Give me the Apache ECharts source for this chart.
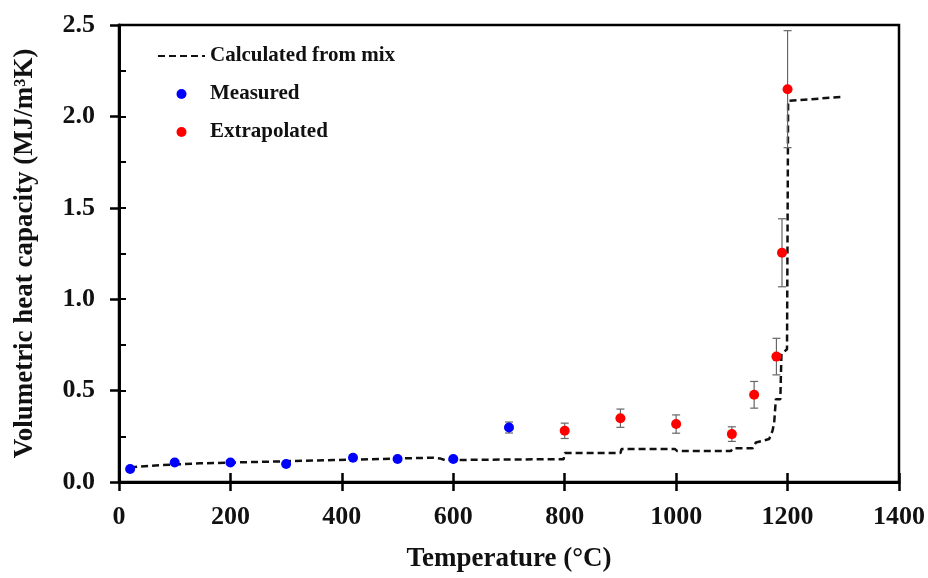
<!DOCTYPE html>
<html>
<head>
<meta charset="utf-8">
<script src="https://cdn.jsdelivr.net/npm/echarts@6/dist/echarts.min.js"></script>
<style>
html,body{margin:0;padding:0;background:#fff;}
#chart{width:928px;height:578px;}
</style>
</head>
<body>
<div id="chart"></div>
<script>
// ---- data ----
const mixT = [20,56,145,265,385,564,576,585,700,798,800,900,902,998,1002,1098,1102,1137,1143,1167,1173,1176,1179,1187,1189,1199,1201,1300];
const mixC = [0.08,0.089,0.102,0.111,0.12,0.133,0.129,0.12,0.123,0.125,0.158,0.158,0.18,0.18,0.169,0.169,0.184,0.184,0.216,0.235,0.28,0.326,0.453,0.453,0.70,0.726,2.085,2.107];

const measuredT = [20,100,200,300,420,500,600,700];
const measuredC = [0.071,0.107,0.107,0.098,0.133,0.126,0.126,0.298];
const measuredErr = [0,0,0,0,0,0,0,0.03];

const extrapT = [800,900,1000,1100,1140,1180,1190,1200];
const extrapC = [0.28,0.349,0.317,0.262,0.477,0.686,1.254,2.149];
const extrapErr = [0.042,0.05,0.05,0.04,0.073,0.1,0.186,0.32];

const xTicks = [0,200,400,600,800,1000,1200,1400];
const yTicks = [0.0,0.5,1.0,1.5,2.0,2.5];

const seriesNames = ['Calculated from mix','Measured','Extrapolated'];

// ---- build ----
const FONT = '"Liberation Serif", "DejaVu Serif", serif';
const mixData = mixT.map((t,i)=>[t,mixC[i]]);
const measData = measuredT.map((t,i)=>[t,measuredC[i]]);
const extData = extrapT.map((t,i)=>[t,extrapC[i]]);
const errData = [];
measuredT.forEach((t,i)=>{ if(measuredErr[i]>0) errData.push([t,measuredC[i],measuredErr[i]]); });
extrapT.forEach((t,i)=>{ if(extrapErr[i]>0) errData.push([t,extrapC[i],extrapErr[i]]); });

function renderErr(params, api){
  const x = api.value(0), y = api.value(1), e = api.value(2);
  const top = api.coord([x, y+e]);
  const bot = api.coord([x, y-e]);
  const hw = 4;
  const style = {stroke:'#666', lineWidth:1.2};
  return {type:'group', children:[
    {type:'line', shape:{x1:top[0],y1:top[1],x2:bot[0],y2:bot[1]}, style},
    {type:'line', shape:{x1:top[0]-hw,y1:top[1],x2:top[0]+hw,y2:top[1]}, style},
    {type:'line', shape:{x1:bot[0]-hw,y1:bot[1],x2:bot[0]+hw,y2:bot[1]}, style}
  ]};
}

const chart = echarts.init(document.getElementById('chart'), null, {renderer:'canvas'});
chart.setOption({
  animation:false,
  backgroundColor:'#fff',
  grid:{left:119,right:29,top:25,bottom:95,show:true,borderColor:'#000',borderWidth:2.5,containLabel:false},
  legend:{
    orient:'vertical', left:152, top:40,
    itemWidth:47, itemHeight:10, itemGap:16, itemTextGap:10,
    data:[
      {name:seriesNames[0], itemStyle:{color:'rgba(0,0,0,0)', borderWidth:0}},
      {name:seriesNames[1], icon:'circle'},
      {name:seriesNames[2], icon:'circle'}
    ],
    textStyle:{fontFamily:FONT, fontWeight:'bold', fontSize:21, color:'#111', lineHeight:22}
  },
  xAxis:[{
    type:'value', min:xTicks[0], max:xTicks[xTicks.length-1], interval:200,
    name:'Temperature (°C)', nameLocation:'middle', nameGap:64,
    nameTextStyle:{fontFamily:FONT, fontWeight:'bold', fontSize:27, color:'#111'},
    axisLine:{show:true, lineStyle:{color:'#000', width:3}},
    axisTick:{show:true, inside:false, length:9, lineStyle:{color:'#000', width:2.5}},
    axisLabel:{fontFamily:FONT, fontWeight:'bold', fontSize:26, color:'#111', margin:22,
      formatter:v=>String(v)},
    splitLine:{show:false}
  },{
    type:'value', min:xTicks[0], max:xTicks[xTicks.length-1], interval:200, position:'bottom',
    axisLine:{show:false},
    axisTick:{show:true, inside:true, length:9, lineStyle:{color:'#000', width:2.5}},
    axisLabel:{show:false}, splitLine:{show:false}
  }],
  yAxis:[{
    type:'value', min:yTicks[0], max:yTicks[yTicks.length-1], interval:0.5,
    name:'Volumetric heat capacity (MJ/m³K)', nameLocation:'middle', nameGap:80, nameRotate:90,
    nameTextStyle:{fontFamily:FONT, fontWeight:'bold', fontSize:27, color:'#111'},
    axisLine:{show:true, lineStyle:{color:'#000', width:3}},
    axisTick:{show:true, inside:false, length:9, lineStyle:{color:'#000', width:2.5}},
    axisLabel:{fontFamily:FONT, fontWeight:'bold', fontSize:26, color:'#111', margin:24,
      formatter:v=>v.toFixed(1)},
    splitLine:{show:false}
  },{
    type:'value', min:yTicks[0], max:yTicks[yTicks.length-1], interval:0.25, position:'left',
    axisLine:{show:false},
    axisTick:{show:true, inside:true, length:7, lineStyle:{color:'#000', width:2}},
    axisLabel:{show:false}, splitLine:{show:false}
  }],
  series:[
    {name:seriesNames[0], type:'line', data:mixData, symbol:'none', showSymbol:false,
     lineStyle:{color:'#111', width:2.5, type:[7,4]}, itemStyle:{color:'#111'}, z:3},
    {name:'err', type:'custom', renderItem:renderErr, data:errData, z:4, silent:true},
    {name:seriesNames[1], type:'scatter', data:measData, symbol:'circle', symbolSize:10,
     itemStyle:{color:'#0000ff', opacity:1}, z:5},
    {name:seriesNames[2], type:'scatter', data:extData, symbol:'circle', symbolSize:10,
     itemStyle:{color:'#ff0000', opacity:1}, z:5}
  ]
});
</script>
</body>
</html>
